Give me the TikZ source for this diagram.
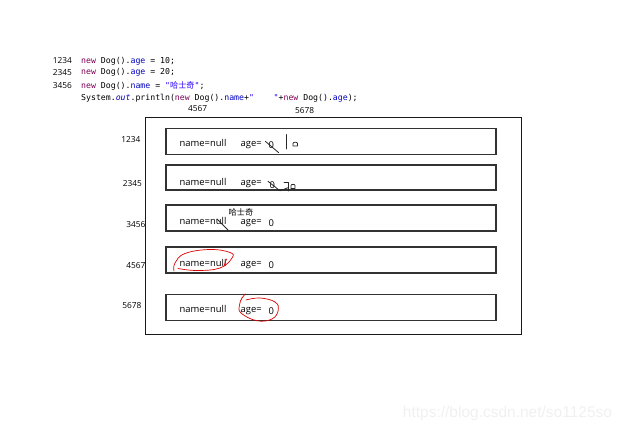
\documentclass[tikz,border=0pt]{standalone}
\usepackage{fontspec}
\usetikzlibrary{positioning}
\setmainfont{Open Sans}
\setmonofont{DejaVu Sans Mono}
\newfontfamily\cjk{Noto Sans CJK SC}
\newfontfamily\wmfont{Liberation Sans}
\definecolor{kwpurple}{RGB}{127,0,85}
\definecolor{fldblue}{RGB}{0,0,192}
\definecolor{strblue}{RGB}{42,0,255}
\definecolor{boxline}{RGB}{50,50,50}
\newcommand{\kw}[1]{\textcolor{kwpurple}{#1}}
\newcommand{\fld}[1]{\textcolor{fldblue}{#1}}

\begin{document}
\begin{tikzpicture}[
  x=1pt, y=-1pt,
  code/.style={font=\ttfamily\fontsize{8.2}{10}\selectfont, inner sep=0pt, anchor=west},
  lineno/.style={font=\fontsize{8.3}{10}\selectfont, inner sep=0pt, anchor=east},
  addr/.style={font=\fontsize{8.3}{10}\selectfont, inner sep=0pt},
  heapbox/.style={draw=black!90, line width=1.2pt, minimum width=376pt, minimum height=217pt,
                  inner sep=0pt},
  objbox/.style={draw=boxline, line width=1.4pt, minimum width=330pt, inner sep=0pt},
  field/.style={font=\fontsize{9.4}{11}\selectfont, inner sep=0pt, anchor=base west},
  penmark/.style={draw=black!85, line width=0.8pt, line cap=round, line join=round},
  redmark/.style={draw=red!85!black, line width=0.7pt, line cap=round},
]
\useasboundingbox (0,0) rectangle (625,435);

% Code lines
\node[lineno] (ln1) at (72,61) {1234};
\node[lineno] (ln2) at (72,73) {2345};
\node[lineno] (ln3) at (72,86) {3456};
\node[code] (c1) at (81,61) {\kw{new} Dog().\fld{age} = 10;};
\node[code] (c2) at (81,72) {\kw{new} Dog().\fld{age} = 20;};
\node[code] (c3) at (81,86) {\kw{new} Dog().\fld{name} = \textcolor{strblue}{"{\cjk 哈士奇}"};};
\node[code] (c4) at (81,98) {System.\fld{\itshape out}.println(\kw{new} Dog().\fld{name}+\textcolor{strblue}{"\ \ \ \ "}+\kw{new} Dog().\fld{age});};
\node[addr] (r4567) at (197.5,109) {4567};
\node[addr] (r5678) at (304.5,111) {5678};

% Heap
\node[heapbox] (heap) at (333.3,226.3) {};

\node[objbox, minimum height=26.5pt] (obj1) at (331,141.5) {};
\node[objbox, minimum height=25pt]   (obj2) at (331,177.5) {};
\node[objbox, minimum height=26pt]   (obj3) at (331,218) {};
\node[objbox, minimum height=26pt]   (obj4) at (331,260) {};
\node[objbox, minimum height=26.5pt] (obj5) at (331,307.5) {};

\node[addr, anchor=east] (addr1) at (140.5,140) {1234};
\node[addr, anchor=east] (addr2) at (142,184) {2345};
\node[addr, anchor=east] (addr3) at (145.5,225) {3456};
\node[addr, anchor=east] (addr4) at (145.5,266) {4567};
\node[addr, anchor=east] (addr5) at (141.5,306) {5678};

% Fields
\node[field] (name1) at (179.5,147) {name=null};
\node[field] (age1)  at (240.5,147) {age=};
\node[field] (val1)  at (268.5,149) {0};
\node[field] (name2) at (179.5,186) {name=null};
\node[field] (age2)  at (240.5,186) {age=};
\node[field] (val2)  at (269.5,188.5) {0};
\node[field] (name3) at (179.5,225) {name=null};
\node[field] (age3)  at (240.5,225) {age=};
\node[field] (val3)  at (268.5,227) {0};
\node[field] (name4) at (179.5,266.5) {name=null};
\node[field] (age4)  at (240.5,266.5) {age=};
\node[field] (val4)  at (268.5,269) {0};
\node[field] (name5) at (179.5,313) {name=null};
\node[field] (age5)  at (240.5,313) {age=};
\node[field] (val5)  at (268.5,315) {0};
\node[font=\cjk\fontsize{8.2}{9}\selectfont, inner sep=0pt] (husky) at (241,212.5) {哈士奇};

% Pen marks
\draw[penmark] (265.3,141.3) -- (278.7,152.7);
\draw[penmark] (286.5,134.5) -- (286.5,149);
\draw[penmark] (293,146) -- (293,143.5) to[out=90,in=90] (297.5,143.5) -- (297.5,146) -- cycle;
\draw[penmark] (268,181.3) -- (280,190.8) -- (288.5,187.5);
\draw[penmark] (284,182) -- (288,182) -- (288,191);
\draw[penmark] (291,188.5) -- (291,185.5) to[out=90,in=90] (295,185.5) -- (295,188.5) -- cycle;
\draw[penmark] (217,219) -- (228,230);

% Red circles
\draw[redmark] plot[smooth, tension=0.7] coordinates
  {(174,271) (175,263) (185,253.5) (210,249.5) (230,252.5) (232,258) (220,268) (197,270.5) (178,268.5)};
\draw[redmark] (226.5,259) -- (224,266);
\draw[redmark] plot[smooth, tension=0.7] coordinates
  {(245.5,294) (242,298) (239.5,305) (241,313) (256.7,320.7) (272,319) (278.3,310) (275,302) (260,298) (246,300)};

% Watermark
\node[font=\wmfont\fontsize{15.5}{18}\selectfont, text=black!6, inner sep=0pt] (wm) at (507.5,413) {https://blog.csdn.net/so1125so};
\end{tikzpicture}
\end{document}
